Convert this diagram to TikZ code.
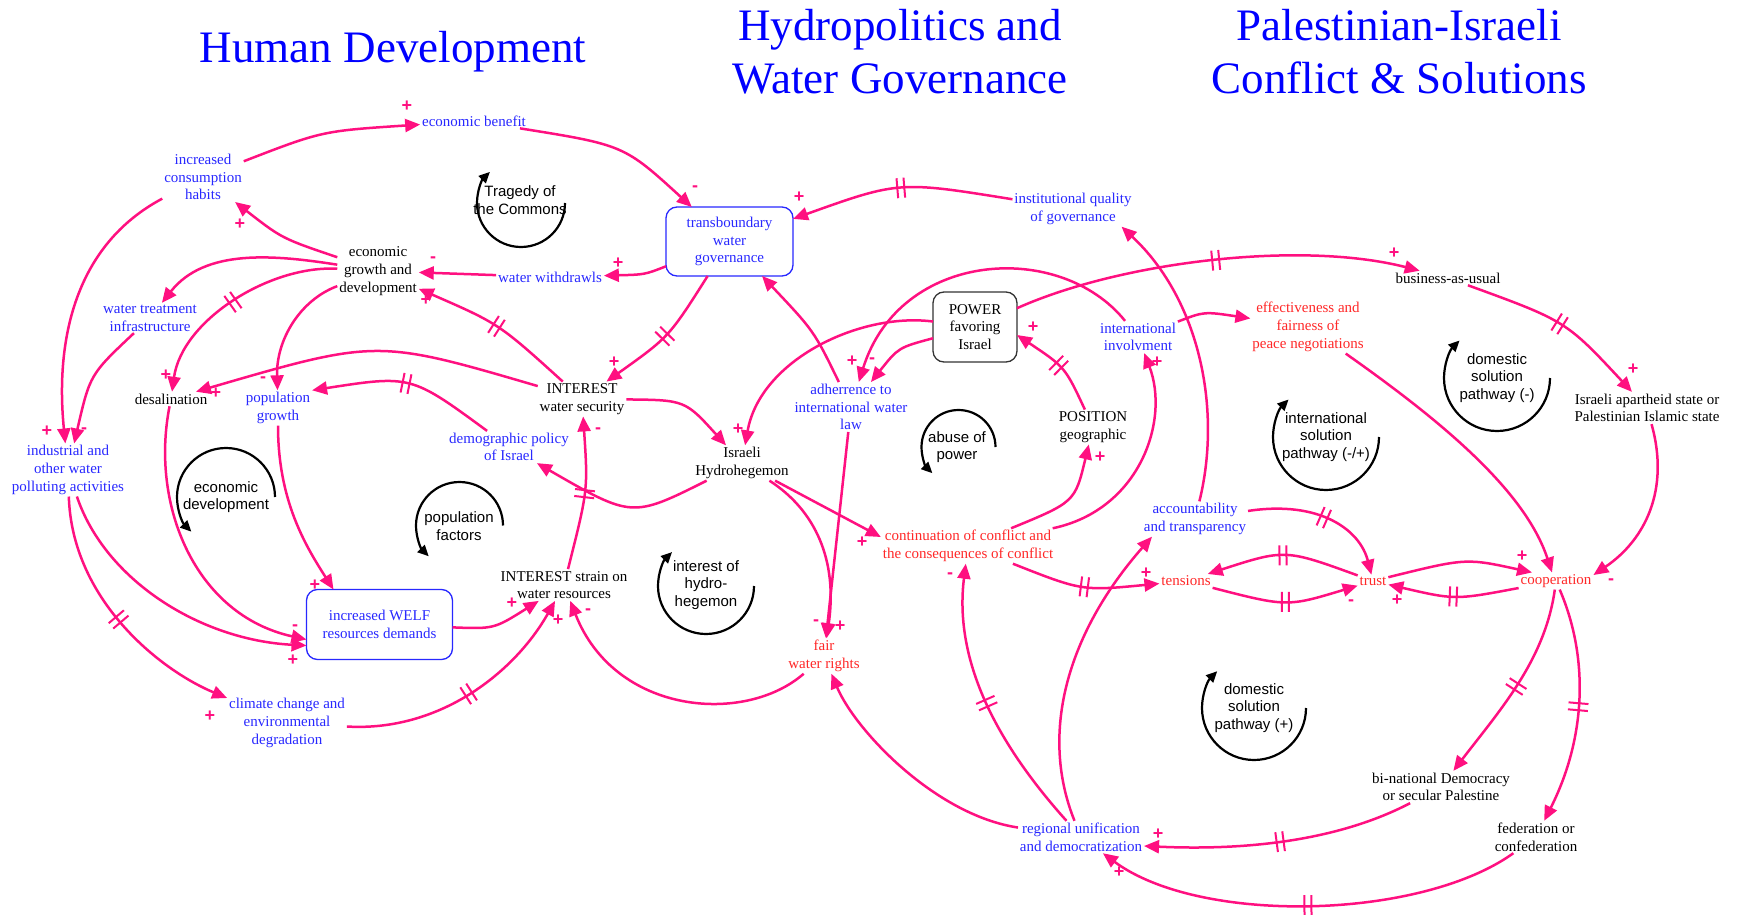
\documentclass[tikz,border=0pt]{standalone}
\usepackage{fontspec}
\setmainfont{Liberation Serif}
\newfontfamily\sansf{Liberation Sans}
\usetikzlibrary{arrows.meta,decorations.markings}
\definecolor{lnk}{RGB}{255,16,128}
\definecolor{vblue}{RGB}{40,40,255}
\definecolor{vred}{RGB}{255,40,40}
\definecolor{ttl}{RGB}{0,0,255}
\tikzset{
  vt/.style={inner sep=2pt, outer sep=0pt, align=center, font=\fontsize{15}{17.7}\selectfont},
  vtb/.style={vt, text=vblue},
  vtr/.style={vt, text=vred},
  vtk/.style={vt, text=black},
  boxb/.style={vtb, draw=vblue, line width=1.3pt, rounded corners=11pt},
  boxk/.style={vtk, draw=black!80, line width=1.3pt, rounded corners=11pt},
  ttlnode/.style={align=center, text=ttl, font=\fontsize{45}{53}\selectfont},
  lk/.style={draw=lnk, line width=2.5pt, -{Triangle[length=15pt,width=13pt]}},
  dly/.style={postaction={decorate, decoration={markings, mark=at position 0.5 with {\draw[lnk,line width=2pt,-] (-3.5pt,-10pt) -- (-3.5pt,10pt) (3.5pt,-10pt) -- (3.5pt,10pt);}}}},
  sg/.style={text=lnk, inner sep=0pt, font=\sansf\bfseries\fontsize{18}{18}\selectfont},
  lp/.style={align=center, font=\sansf\fontsize{15}{17.7}\selectfont},
  lpa/.style={draw=black, line width=2.2pt, -{Triangle[length=11pt,width=10pt]}},
}
\begin{document}
\begin{tikzpicture}[x=1pt,y=-1pt]
\fill[white] (0,0) rectangle (1738,915);
\useasboundingbox (0,0) rectangle (1738,915);

% section titles
\node[ttlnode] (t1) at (393,52) {Human Development};
\node[ttlnode] (t2) at (900,52) {Hydropolitics and\\Water Governance};
\node[ttlnode] (t3) at (1399,52) {Palestinian-Israeli\\Conflict \& Solutions};

% variables
\node[vtb] (ecb) at (474,121) {economic benefit};
\node[vtb] (ich) at (203,177) {increased\\consumption\\habits};
\node[vtk] (egd) at (378,271) {economic\\growth and\\development};
\node[vtb] (ww) at (550,277) {water withdrawls};
\node[boxb, minimum width=127pt, minimum height=69pt] (tbg) at (729.5,241.5) {transboundary\\water\\governance};
\node[vtb] (wti) at (150,318) {water treatment\\infrastructure};
\node[vtk] (des) at (171,399) {desalination};
\node[vtb] (pg) at (278,408) {population\\growth};
\node[vtk] (iws) at (582,399) {INTEREST\\water security};
\node[vtb] (dpi) at (509,447) {demographic policy\\of Israel};
\node[vtb] (ind) at (68,470) {industrial and\\other water\\polluting activities};
\node[vtk] (ihh) at (742,463) {Israeli\\Hydrohegemon};
\node[boxb, minimum width=146pt, minimum height=70pt] (welf) at (379.5,624.5) {increased WELF\\resources demands};
\node[vtk] (isw) at (564,585) {INTEREST strain on\\water resources};
\node[vtb] (ccd) at (287,723) {climate change and\\environmental\\degradation};
\node[vtr] (fwr) at (824,656) {fair\\water rights};
\node[vtb] (aiw) at (851,407) {adherrence to\\international water\\law};
\node[boxk, minimum width=84pt, minimum height=70pt] (pow) at (975,327) {POWER\\favoring\\Israel};
\node[vtb] (iqg) at (1073,209) {institutional quality\\of governance};
\node[vtb] (iin) at (1138,337) {international\\involvment};
\node[vtr] (efp) at (1308,327) {effectiveness and\\fairness of\\peace negotiations};
\node[vtk] (bau) at (1448,278) {business-as-usual};
\node[vtk] (pos) at (1093,427) {POSITION\\geographic};
\node[vtr] (coc) at (968,546) {continuation of conflict and\\the consequences of conflict};
\node[vtb] (acc) at (1195,519) {accountability\\and transparency};
\node[vtr] (ten) at (1186,581) {tensions};
\node[vtr] (tru) at (1373,581) {trust};
\node[vtr] (coo) at (1556,581) {cooperation};
\node[vtk] (iap) at (1647,408) {Israeli apartheid state or\\Palestinian Islamic state};
\node[vtk] (bnd) at (1441,787) {bi-national Democracy\\or secular Palestine};
\node[vtk] (fed) at (1536,837) {federation or\\confederation};
\node[vtb] (reg) at (1081,837) {regional unification\\and democratization};

% human development links
\draw[lk] (ich) .. controls (322,131) .. (ecb);
\draw[lk] (ecb) .. controls (624,145) .. (tbg);
\draw[lk] (egd) .. controls (282,238.5) .. (ich);
\draw[lk] (egd) .. controls (275,255) and (205,248) .. (wti);
\draw[lk,dly] (egd) .. controls (270,265) and (182,320) .. (des);
\draw[lk] (egd) .. controls (300,300) and (276,340) .. (pg);
\draw[lk] (ww) -- (egd);
\draw[lk] (tbg) .. controls (644.8,274.6) .. (ww);
\draw[lk,dly] (iws) .. controls (499,323.8) .. (egd);
\draw[lk] (iws) .. controls (377,339) .. (des);
\draw[lk,dly] (dpi) .. controls (411,375) .. (pg.north east);
\draw[lk,dly] (tbg) .. controls (669,337) .. (iws);
\draw[lk,dly] (isw) .. controls (588,490) .. (iws);
\draw[lk] (iws) .. controls (685,400) .. (ihh);
\draw[lk] (ihh) .. controls (632,518) .. (dpi);
\draw[lk] (des) .. controls (150,505) and (195,615) .. ([yshift=-15pt]welf.west);
\draw[lk] (ind) .. controls (105,580) and (200,640) .. ([yshift=-21pt]welf.west);
\draw[lk,dly] (ind) .. controls (72,600) and (160,670) .. (ccd);
\draw[lk] (ich) .. controls (75,245) and (55,340) .. (ind);
\draw[lk] (wti) .. controls (90,374.5) .. (ind);
\draw[lk] (pg) .. controls (278,500) and (305,545) .. ([xshift=-46pt]welf.north);
\draw[lk] (welf) .. controls (494,629) .. (isw);
\draw[lk,dly] (ccd) .. controls (440,732) and (515,672) .. (isw);
\draw[lk] (fwr) .. controls (745,725) and (615,715) .. (isw);

% hydropolitics links
\draw[lk,dly] (iqg) .. controls (899,181) .. (tbg);
\draw[lk] (aiw) .. controls (814,331) .. (tbg);
\draw[lk] (pow) .. controls (860,312) and (760,360) .. (ihh);
\draw[lk] (pow) .. controls (898.5,347.5) .. (aiw);
\draw[lk] (iin) .. controls (1060,240) and (900,250) .. (aiw);
\draw[lk,dly] (pow) .. controls (1120,262) and (1300,240) .. (bau);
\draw[lk,dly] (pos) .. controls (1065,367) .. ([yshift=-8pt]pow.east);
\draw[lk] (aiw) -- (fwr);
\draw[lk] (ihh) .. controls (815,510) and (838,560) .. (fwr);
\draw[lk] (ihh) -- ([yshift=9pt]coc.west);
\draw[lk] (coc) .. controls (1075,502) .. (pos);
\draw[lk] (coc) .. controls (1140,510) and (1170,420) .. (iin);
\draw[lk] (acc) .. controls (1222,410) and (1200,300) .. ([xshift=-12pt]iqg.south east);
\draw[lk] (iin) .. controls (1204,311.5) .. (efp);

% conflict and solutions links
\draw[lk] (efp) .. controls (1440,420) and (1525,490) .. ([xshift=-4pt]coo.north);
\draw[lk,dly] (bau) .. controls (1566,321) .. (iap);
\draw[lk] (iap) .. controls (1670,490) and (1645,540) .. ([yshift=6pt]coo.east);
\draw[lk,dly] (coc) .. controls (1082,591) .. (ten);
\draw[lk] (reg) .. controls (1038,730) and (1070,630) .. ([xshift=10pt]acc.south west);
\draw[lk,dly] (reg) .. controls (985,730) and (955,650) .. (coc);
\draw[lk] (reg) .. controls (935,815) and (855,730) .. (fwr);
\draw[lk,dly] (acc) .. controls (1320,500) and (1360,530) .. (tru);
\draw[lk,dly] (tru) .. controls (1285,549) .. (ten);
\draw[lk,dly] (ten) .. controls (1287,607) .. (tru);
\draw[lk] (tru) .. controls (1466,558) .. ([xshift=-24pt]coo.north);
\draw[lk,dly] (coo) .. controls (1455,600) .. (tru);
\draw[lk,dly] (coo) .. controls (1545,660) and (1500,710) .. (bnd);
\draw[lk,dly] (coo) .. controls (1590,660) and (1585,740) .. (fed);
\draw[lk,dly] (bnd) .. controls (1330,845) and (1230,850) .. ([yshift=-9pt]reg.east);
\draw[lk,dly] (fed) .. controls (1420,920) and (1200,925) .. (reg);

% link polarities
\node[sg] (sg1) at (407,106) {+};
\node[sg] (sg2) at (695,189) {-};
\node[sg] (sg3) at (240,224) {+};
\node[sg] (sg4) at (166,375) {+};
\node[sg] (sg5) at (263,380) {-};
\node[sg] (sg6) at (433,260) {-};
\node[sg] (sg7) at (618,263) {+};
\node[sg] (sg8) at (426,300) {+};
\node[sg] (sg9) at (216,393) {+};
\node[sg] (sg10) at (614,362) {+};
\node[sg] (sg11) at (598,431) {-};
\node[sg] (sg12) at (295,628) {-};
\node[sg] (sg13) at (293,660) {+};
\node[sg] (sg14) at (210,716) {+};
\node[sg] (sg15) at (47,431) {+};
\node[sg] (sg16) at (84,431) {-};
\node[sg] (sg17) at (315,585) {+};
\node[sg] (sg18) at (512,603) {+};
\node[sg] (sg19) at (558,620) {+};
\node[sg] (sg20) at (588,612) {-};
\node[sg] (sg21) at (799,197) {+};
\node[sg] (sg22) at (738,429) {+};
\node[sg] (sg23) at (872,361) {-};
\node[sg] (sg24) at (852,361) {+};
\node[sg] (sg25) at (1394,253) {+};
\node[sg] (sg26) at (1033,327) {+};
\node[sg] (sg27) at (840,626) {+};
\node[sg] (sg28) at (816,623) {-};
\node[sg] (sg29) at (862,542) {+};
\node[sg] (sg30) at (1100,457) {+};
\node[sg] (sg31) at (1157,362) {+};
\node[sg] (sg32) at (1633,369) {+};
\node[sg] (sg33) at (1611,582) {-};
\node[sg] (sg34) at (1146,573) {+};
\node[sg] (sg35) at (950,576) {-};
\node[sg] (sg36) at (1351,603) {-};
\node[sg] (sg37) at (1522,556) {+};
\node[sg] (sg38) at (1397,600) {+};
\node[sg] (sg39) at (1158,834) {+};
\node[sg] (sg40) at (1119,872) {+};

% feedback loops
\node[lp] (lp1) at (520,200) {Tragedy of\\the Commons};
\draw[lpa] (565,203) arc[start angle=0, end angle=225, radius=44];
\node[lp] (lp2) at (226,497) {economic\\development};
\draw[lpa] (275,497) arc[start angle=0, end angle=-225, radius=49];
\node[lp] (lp3) at (459,526) {population\\factors};
\draw[lpa] (503,525.5) arc[start angle=0, end angle=-225, radius=43.5];
\node[lp] (lp4) at (706,585) {interest of\\hydro-\\hegemon};
\draw[lpa] (754,586) arc[start angle=0, end angle=225, radius=48];
\node[lp] (lp5) at (957,447) {abuse of\\power};
\draw[lpa] (995.5,447) arc[start angle=0, end angle=-225, radius=37];
\node[lp] (lp6) at (1326,437) {international\\solution\\pathway (-/+)};
\draw[lpa] (1379,437) arc[start angle=0, end angle=225, radius=53];
\node[lp] (lp7) at (1497,378) {domestic\\solution\\pathway (-)};
\draw[lpa] (1550,378) arc[start angle=0, end angle=225, radius=53];
\node[lp] (lp8) at (1254,708) {domestic\\solution\\pathway (+)};
\draw[lpa] (1306,708) arc[start angle=0, end angle=225, radius=52];
\end{tikzpicture}
\end{document}
